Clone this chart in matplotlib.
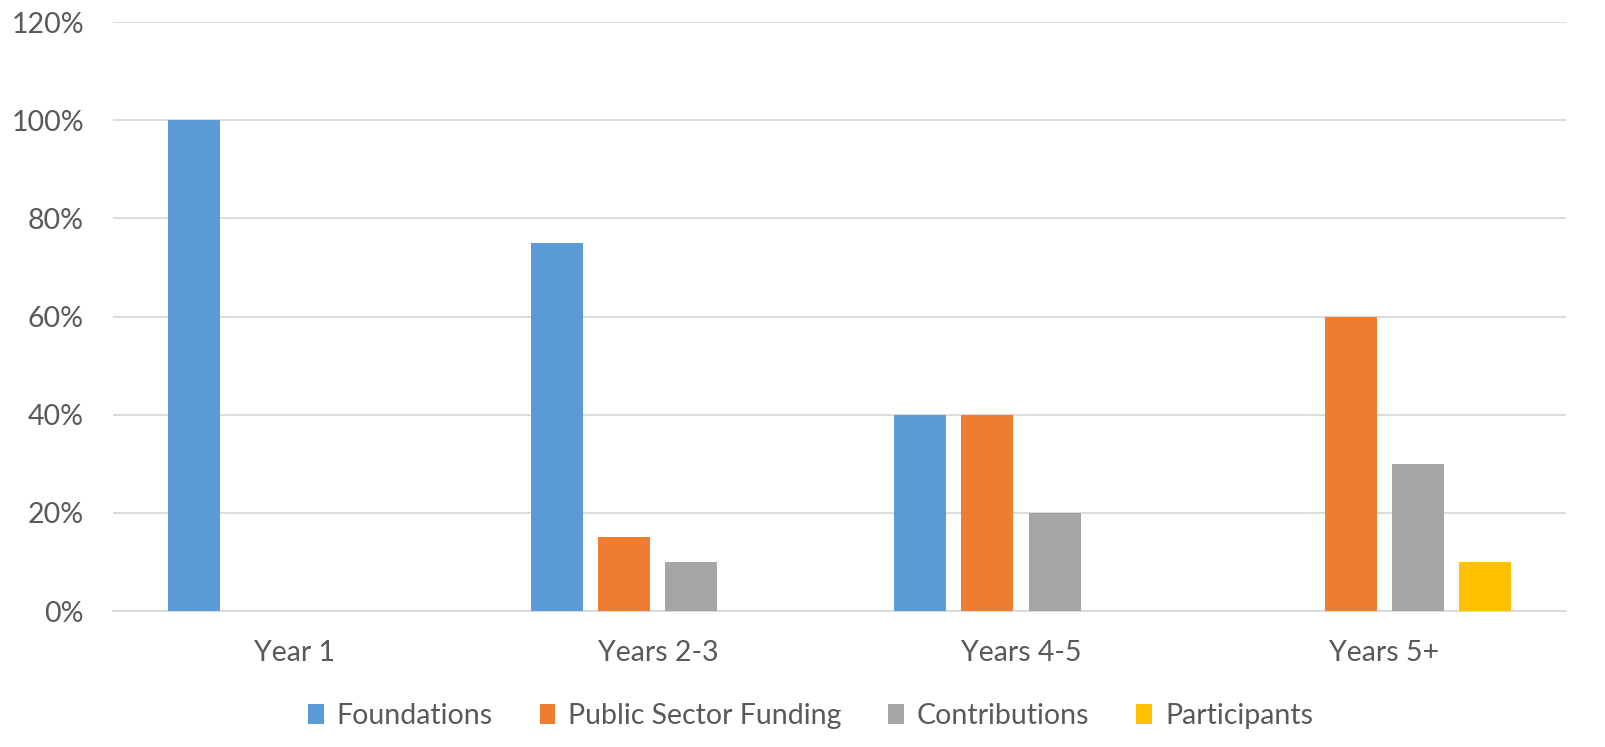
import numpy as np
import matplotlib
matplotlib.use("Agg")
import matplotlib.pyplot as plt
from matplotlib.ticker import PercentFormatter

# datos
categories = ["Year 1", "Years 2-3", "Years 4-5", "Years 5+"]
foundations = [100, 75, 40, 0]
public_sector = [0, 15, 40, 60]
contributions = [0, 10, 20, 30]
participants = [0, 0, 0, 10]

series = ["Foundations", "Public Sector Funding", "Contributions", "Participants"]
colors = ["#5b9bd5", "#ed7d31", "#a5a5a5", "#ffc000"]

plt.rcParams["font.family"] = ["Lato", "DejaVu Sans"]

fig = plt.figure(figsize=(16.06, 7.47), dpi=100)
ax = fig.add_axes([0.0704, 0.182, 0.9046, 0.7885])

x = np.arange(len(categories))
width = 0.143
step = 0.185
data = [foundations, public_sector, contributions, participants]
for i, (vals, name, c) in enumerate(zip(data, series, colors)):
    ax.bar(x + (i - 1.5) * step, vals, width, color=c, label=name, zorder=3)

ax.set_xlim(-0.5, len(categories) - 0.5)
ax.set_ylim(0, 120)
ax.set_yticks(range(0, 121, 20))
ax.yaxis.set_major_formatter(PercentFormatter(decimals=0))
ax.set_xticks(x)
ax.set_xticklabels(categories)
ax.grid(axis="y", color="#d9d9d9", linewidth=1.3, zorder=0)
for s in ["top", "right", "left"]:
    ax.spines[s].set_visible(False)
ax.spines["bottom"].set_color("#d9d9d9")
ax.spines["bottom"].set_linewidth(1.3)
ax.tick_params(length=0, labelsize=20.5, colors="#595959")
ax.tick_params(axis="x", pad=21)
ax.tick_params(axis="y", pad=21)

ax.legend(loc="upper center", bbox_to_anchor=(0.48, -0.112), ncol=4, frameon=False,
          fontsize=20.5, labelcolor="#595959", handlelength=0.55, handleheight=0.7,
          handletextpad=0.45, columnspacing=1.65)

fig.savefig("out.png", dpi=100)
